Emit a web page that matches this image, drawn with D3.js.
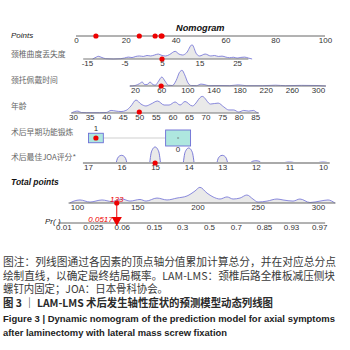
<!DOCTYPE html>
<html>
<head>
<meta charset="utf-8">
<script src="https://cdn.jsdelivr.net/npm/d3@7"></script>
<style>
body{margin:0;background:#fff}
svg{display:block}
</style>
</head>
<body>
<div id="chart"></div>
<script>
// tick labels
var pointTicks = [0,20,40,60,80,100]
var lossTicks = [-15,-5,5,15,25]
var collarTicks = [20,60,100,140,180,220,260,300]
var ageTicks = [30,35,40,45,50,55,60,65,70,75,80,85]
var joaTicks = [17,16,15,14,13,12,11,10]
var totalTicks = [100,150,200,250,300]
var prTicks = [0.01,0.025,0.06,0.15,0.3,0.5,0.7,0.85,0.93,0.97]

// row names
var rowNames = ["颈椎曲度丢失度","颈托佩戴时间","年龄","术后早期功能锻炼","术后最佳JOA评分*"]

// densities [value, relative density]
var lossDensity = [[-13.5,0],[-12.5,.12],[-12,.17],[-11,.09],[-10,.02],[-8,0],[-6,.02],[-5,.06],[-4,.12],[-3,.09],[-2,.16],[-1,.19],[0,.16],[1,.22],[2,.19],[3,.25],[4,.31],[5,.22],[6,.19],[7,.28],[8.5,.48],[9.5,.31],[10.5,.25],[11.5,.38],[13,.89],[14.2,.31],[15,.19],[16.5,.31],[18,.19],[19,.22],[20,.16],[21,.18],[22,.12],[23,.08],[24,.11],[25,.06],[26,.1],[27,.12],[28,.06],[29,0]]
var collarDensity = [[12,0],[20,.03],[27,.15],[31,.25],[35,.08],[39,.1],[43,.25],[47,.1],[51,.05],[56,.3],[61,.56],[66,.3],[71,.05],[77,.03],[83,.35],[88,.85],[92,.98],[96,.7],[101,.2],[106,.03],[114,.02],[121,.12],[127,.08],[133,.02],[150,.03],[165,.02],[178,.07],[190,.02],[215,.02],[235,.05],[250,.02],[275,.04],[300,.03],[312,0]]
var ageDensity = [[29.5,0],[30.5,.09],[31.5,.12],[32.5,.03],[34,.02],[38,.02],[40,.03],[41.5,.16],[43,.12],[44.5,.09],[46,.16],[47.5,.44],[49,.81],[50.5,.56],[52,.44],[53.5,.56],[55.5,.75],[57.5,.5],[59,.5],[60.8,.69],[62.3,.5],[63.8,.72],[66,.44],[69,1.04],[71.5,.56],[73.8,.62],[75.5,.38],[77,.19],[78.5,.19],[80,.06],[81.5,.16],[83,.12],[84.5,.16],[85.5,.03],[86,0]]
var joaValues = [16,15,14,13,12,11,10]
var joaDensity = [.48,1.0,.94,.48,.14,.06,.06]
var totalDensity = [[94,0],[97.5,.12],[102.5,.19],[110.8,.06],[120.7,.19],[129,.09],[137.3,.25],[144,.12],[152.3,.22],[157.3,.12],[166.4,.31],[174.7,.19],[183,.31],[191.3,.44],[197.9,.75],[202,.98],[207.9,.62],[212.9,.38],[218.7,.25],[224.5,.38],[229.5,.25],[235.3,.31],[241,.5],[246,.25],[250.2,.06],[257.7,.12],[266,.25],[271,.19],[279.3,.12],[285,.25],[293.4,.03],[301.7,.12],[308.3,.19],[314,0]]

// early exercise groups
var exerciseGroups = ["1","0"]
var exercisePoints = [8,41]
var exerciseShare = [0.26,0.74]

// selected patient
var selLoss = 5
var selCollar = 60
var selAge = 50
var selExercise = "1"
var selJoa = 15
var selTotal = 133
var selProb = 0.0517

var captionLines = [
  "图注：列线图通过各因素的顶点轴分值累加计算总分，并在对应总分点",
  "绘制直线，以确定最终结局概率。LAM-LMS：颈椎后路全椎板减压侧块",
  "螺钉内固定；JOA：日本骨科协会。"
]
var figTitleCn = "图 3 ｜ LAM-LMS 术后发生轴性症状的预测模型动态列线图"
var figTitleEn = ["Figure 3 | Dynamic nomogram of the prediction model for axial symptoms",
  "after laminectomy with lateral mass screw fixation"]

var blue = "#6d6dd6"
var red = "#ee0000"
var tickFont = "Liberation Sans, Arial, sans-serif"
var cjk = "Noto Sans CJK SC, sans-serif"

var svg = d3.select("#chart").append("svg").attr("width",350).attr("height",350)

var pts = d3.scaleLinear().domain([0,100]).range([76,325])
var lossX = d3.scaleLinear().domain([-15,25]).range([pts(4.4),pts(64.7)])
var collarX = d3.scaleLinear().domain([20,300]).range([pts(23.7),pts(97.2)])
var ageX = d3.scaleLinear().domain([30,85]).range([pts(-1.2),pts(72)])
var joaX = d3.scaleLinear().domain([17,10]).range([pts(4.8),pts(99.2)])
var totalX = d3.scaleLinear().domain([100,300]).range([77,318])
var logitX = d3.scaleLinear().domain([0,1]).range([209,240.7])
function logit(p){return Math.log(p/(1-p))}
var dy = d3.scaleLinear().domain([0,1]).range([0,16])

function drawDensity(y, scale, dens){
    var area = d3.area().x(function(d){return scale(d[0])}).y0(y)
        .y1(function(d){return y-dy(d[1])}).curve(d3.curveMonotoneX)
    var line = d3.line().x(function(d){return scale(d[0])})
        .y(function(d){return y-dy(d[1])}).curve(d3.curveMonotoneX)
    svg.append("path").datum(dens).attr("d",area).attr("fill","#e9e9e9")
    svg.append("path").datum(dens).attr("d",line).attr("fill","none")
        .attr("stroke",blue).attr("stroke-width",0.8)
}

function drawAxis(y, scale, ticks, lo, hi, color, sw, fmt){
    svg.append("line").attr("x1",scale(lo)).attr("x2",scale(hi))
        .attr("y1",y).attr("y2",y).attr("stroke",color).attr("stroke-width",sw)
    var ax = d3.axisBottom(scale).tickValues(ticks).tickSize(0).tickPadding(1)
        .tickFormat(fmt || function(d){return d})
    var g = svg.append("g").attr("transform","translate(0,"+y+")").call(ax)
    g.select(".domain").remove()
    g.selectAll("text").attr("font-family",tickFont).attr("font-size",8).attr("fill","#333")
}

function dot(x,y){
    svg.append("circle").attr("cx",x).attr("cy",y).attr("r",2.6).attr("fill",red)
}

function rowLabel(txt,y){
    svg.append("text").text(txt).attr("x",11).attr("y",y)
        .attr("font-family",cjk).attr("font-size",7.8).attr("fill","#666")
}

// title + points
svg.append("text").text("Nomogram").attr("x",176).attr("y",31)
    .attr("font-family",tickFont).attr("font-size",9.2).attr("font-weight","bold")
    .attr("font-style","italic").attr("fill","#111")
svg.append("text").text("Points").attr("x",11).attr("y",38)
    .attr("font-family",tickFont).attr("font-size",8).attr("font-style","italic").attr("fill","#222")
drawAxis(36, pts, pointTicks, 0, 100, "#666", 1)

// row 1
rowLabel(rowNames[0],57)
drawDensity(59, lossX, lossDensity)
drawAxis(59, lossX, lossTicks, -16, 28, "#777", 1)
dot(lossX(selLoss),59)

// row 2
rowLabel(rowNames[1],83)
drawDensity(86, collarX, collarDensity)
drawAxis(86, collarX, collarTicks, 12, 312, "#777", 1)
dot(collarX(selCollar),86)

// row 3
rowLabel(rowNames[2],109)
drawDensity(113, ageX, ageDensity)
drawAxis(113, ageX, ageTicks, 29.5, 86, "#777", 1)
dot(ageX(selAge),112)

// row 4 boxes
rowLabel(rowNames[3],135)
var boxY = 138
var bx = exerciseGroups.map(function(g,i){return pts(exercisePoints[i])})
var bw = exerciseShare.map(function(s){return 29*Math.sqrt(s)})
var bh = exerciseShare.map(function(s){return 18.6*Math.sqrt(s)})
svg.append("line").attr("x1",bx[0]+bw[0]/2).attr("x2",bx[1]-bw[1]/2)
    .attr("y1",boxY).attr("y2",boxY).attr("stroke","#cfcfcf").attr("stroke-width",1)
svg.selectAll(".exBox").data(exerciseGroups).join("rect")
    .attr("x",function(d,i){return bx[i]-bw[i]/2})
    .attr("y",function(d,i){return boxY-bh[i]/2})
    .attr("width",function(d,i){return bw[i]})
    .attr("height",function(d,i){return bh[i]})
    .attr("fill","#aee7df").attr("stroke",blue).attr("stroke-width",0.9)
svg.selectAll(".exLab").data(exerciseGroups).join("text")
    .text(function(d){return d})
    .attr("x",function(d,i){return bx[i]})
    .attr("y",function(d,i){return i==0 ? boxY-bh[i]/2-2 : boxY+bh[i]/2+6})
    .attr("text-anchor","middle").attr("font-family",tickFont).attr("font-size",8).attr("fill","#333")
svg.append("line").attr("x1",bx[1]-1).attr("x2",bx[1]+1).attr("y1",boxY).attr("y2",boxY)
    .attr("stroke","#666").attr("stroke-width",0.8)
dot(bx[exerciseGroups.indexOf(selExercise)],boxY)

// row 5 JOA bumps
rowLabel(rowNames[4],160)
var joaY = 163
joaValues.forEach(function(v,i){
    var pts2 = []
    for(var k=-4;k<=4;k++){
        var t = k/4
        pts2.push([joaX(v)+t*5.4, joaY-dy(joaDensity[i])*Math.pow(1-t*t,0.6)])
    }
    var area = d3.area().x(function(d){return d[0]}).y0(joaY).y1(function(d){return d[1]}).curve(d3.curveMonotoneX)
    var line = d3.line().curve(d3.curveMonotoneX)
    svg.append("path").attr("d",area(pts2)).attr("fill","#e9e9e9")
    svg.append("path").attr("d",line(pts2)).attr("fill","none").attr("stroke",blue).attr("stroke-width",0.9)
})
drawAxis(joaY, joaX, joaTicks, 17.15, 9.8, "#aaa", 2.2)
dot(joaX(selJoa),joaY)

// points dots
;[lossX(selLoss),collarX(selCollar),ageX(selAge),bx[exerciseGroups.indexOf(selExercise)],joaX(selJoa)]
    .forEach(function(x){dot(x,36)})

// total points
svg.append("text").text("Total points").attr("x",11).attr("y",185)
    .attr("font-family",tickFont).attr("font-size",8.5).attr("font-weight","bold")
    .attr("font-style","italic").attr("fill","#111")
drawDensity(203, totalX, totalDensity)
drawAxis(203, totalX, totalTicks, 93, 314.5, "#666", 1)

// Pr axis
svg.append("text").text("Pr( )").attr("x",45).attr("y",224)
    .attr("font-family",tickFont).attr("font-size",8).attr("font-style","italic").attr("fill","#222")
drawAxis(223, logitX, prTicks.map(logit), logit(0.0085), logit(0.975), "#666", 1,
    function(d,i){return prTicks[i]})

// red indicator
var tx = totalX(selTotal)
svg.append("line").attr("x1",tx).attr("x2",tx).attr("y1",203).attr("y2",219)
    .attr("stroke",red).attr("stroke-width",1)
dot(tx,203)
svg.append("text").text(selTotal).attr("x",tx).attr("y",202)
    .attr("text-anchor","middle").attr("font-family",tickFont).attr("font-size",8)
    .attr("font-style","italic").attr("fill",red)
svg.append("path").attr("d",d3.symbol(d3.symbolTriangle,45)())
    .attr("transform","translate("+logitX(logit(selProb))+",220) rotate(180)").attr("fill",red)
svg.append("text").text(selProb).attr("x",logitX(logit(selProb))-4).attr("y",222)
    .attr("text-anchor","end").attr("font-family",tickFont).attr("font-size",8)
    .attr("font-style","italic").attr("fill",red)

// caption
var capY = [266,280,293]
var capW = [333,332,165]
captionLines.forEach(function(t,i){
    svg.append("text").text(t).attr("x",3).attr("y",capY[i])
        .attr("font-family",cjk).attr("font-size",10.8).attr("fill","#3a3a3a")
        .attr("textLength",capW[i]).attr("lengthAdjust","spacingAndGlyphs")
})
svg.append("text").text(figTitleCn).attr("x",3).attr("y",307)
    .attr("font-family",cjk).attr("font-size",10.8).attr("fill","#2a2a2a").attr("font-weight","bold")
    .attr("textLength",270).attr("lengthAdjust","spacingAndGlyphs")
var enY = [322,336]
var enW = [332,224]
figTitleEn.forEach(function(t,i){
    svg.append("text").text(t).attr("x",3).attr("y",enY[i])
        .attr("font-family","Liberation Sans, sans-serif").attr("font-size",9.4).attr("font-weight","bold")
        .attr("fill","#222").attr("textLength",enW[i]).attr("lengthAdjust","spacingAndGlyphs")
})
</script>
</body>
</html>
